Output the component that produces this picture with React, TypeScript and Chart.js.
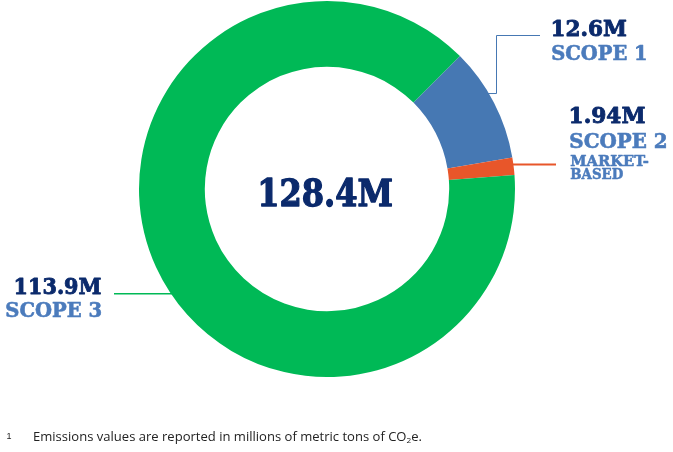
import React, { useEffect, useRef } from 'react';
import { Chart, registerables } from 'chart.js';

Chart.register(...registerables);

// ---- data ----
const categories = ['SCOPE 1', 'SCOPE 2', 'SCOPE 3'];
const values = [12.6, 1.94, 113.9];
const valueLabels = ['12.6M', '1.94M', '113.9M'];
const noteLabels = ['', 'MARKET-|BASED', ''];
const totalLabel = '128.4M';
const footnoteText = 'Emissions values are reported in millions of metric tons of CO';
const footnoteSub = '2';
const footnoteEnd = 'e.';

// ---- styles ----
const segColors = ['#4678B3', '#E8562A', '#00B956'];
const NAVY = '#0B2A6C';
const LBLUE = '#4B7BBC';
const SLAB = '"DejaVu Serif", serif';

const W = 673;
const H = 452;

function fitText(
  ctx: CanvasRenderingContext2D,
  text: string,
  x: number,
  y: number,
  w: number,
  font: string,
  color: string,
  stroke = 0
) {
  ctx.save();
  ctx.font = font;
  ctx.fillStyle = color;
  ctx.strokeStyle = color;
  ctx.lineJoin = 'round';
  ctx.textAlign = 'left';
  ctx.textBaseline = 'alphabetic';
  const m = ctx.measureText(text);
  const ink = m.actualBoundingBoxRight + m.actualBoundingBoxLeft + stroke;
  const s = w / ink;
  ctx.translate(x + (m.actualBoundingBoxLeft + stroke / 2) * s, y - stroke / 2);
  ctx.scale(s, 1);
  ctx.fillText(text, 0, 0);
  if (stroke > 0) {
    ctx.lineWidth = stroke;
    ctx.strokeText(text, 0, 0);
  }
  ctx.restore();
}

const labelPlugin = {
  id: 'labels',
  afterDraw(chart: any) {
    const ctx: CanvasRenderingContext2D = chart.ctx;
    const meta = chart.getDatasetMeta(0);
    const anchor = (i: number, frac: number) => {
      const p = meta.data[i].getProps(['x', 'y', 'startAngle', 'endAngle', 'outerRadius'], true);
      const a = p.startAngle + (p.endAngle - p.startAngle) * frac;
      return { x: p.x + Math.cos(a) * p.outerRadius, y: p.y + Math.sin(a) * p.outerRadius };
    };

    // leader lines
    ctx.save();
    const a0 = anchor(0, 0.41);
    ctx.strokeStyle = segColors[0];
    ctx.lineWidth = 1;
    ctx.beginPath();
    ctx.moveTo(a0.x - 1, a0.y);
    ctx.lineTo(496.5, a0.y);
    ctx.lineTo(496.5, 35.5);
    ctx.lineTo(540, 35.5);
    ctx.stroke();

    const a1 = anchor(1, 0.4);
    ctx.strokeStyle = segColors[1];
    ctx.lineWidth = 2;
    ctx.beginPath();
    ctx.moveTo(a1.x - 1, a1.y);
    ctx.lineTo(556, a1.y);
    ctx.stroke();

    const a2 = anchor(2, 0.471);
    ctx.strokeStyle = segColors[2];
    ctx.lineWidth = 1.4;
    ctx.beginPath();
    ctx.moveTo(a2.x + 1, a2.y);
    ctx.lineTo(114, a2.y);
    ctx.stroke();
    ctx.restore();

    // value labels
    fitText(ctx, valueLabels[0], 552, 36, 75, `bold 23px ${SLAB}`, NAVY, 0.9);
    fitText(ctx, categories[0], 552, 60, 94, `bold 20px ${SLAB}`, LBLUE, 0.6);

    fitText(ctx, valueLabels[1], 570, 123, 75.5, `bold 23px ${SLAB}`, NAVY, 0.9);
    fitText(ctx, categories[1], 570, 148, 97, `bold 20px ${SLAB}`, LBLUE, 0.6);
    const notes = noteLabels[1].split('|');
    fitText(ctx, notes[0], 570, 166.3, 79, `bold 14.5px ${SLAB}`, LBLUE, 0.5);
    fitText(ctx, notes[1], 570, 179.7, 53, `bold 14.5px ${SLAB}`, LBLUE, 0.5);

    fitText(ctx, valueLabels[2], 15, 294.3, 86.5, `bold 23px ${SLAB}`, NAVY, 0.9);
    fitText(ctx, categories[2], 6, 317.3, 95.5, `bold 20px ${SLAB}`, LBLUE, 0.6);

    // total in the centre
    fitText(ctx, totalLabel, 260, 206.7, 132.7, `bold 38px ${SLAB}`, NAVY, 1.3);

    // footnote
    ctx.save();
    ctx.fillStyle = '#222222';
    ctx.textBaseline = 'alphabetic';
    ctx.font = '9px "Liberation Sans", sans-serif';
    ctx.fillText('1', 6.5, 438.5);
    const mainFont = '12.6px "Open Sans", sans-serif';
    const subFont = '8px "Open Sans", sans-serif';
    ctx.font = mainFont;
    const w1 = ctx.measureText(footnoteText).width;
    const w3 = ctx.measureText(footnoteEnd).width;
    ctx.font = subFont;
    const w2 = ctx.measureText(footnoteSub).width;
    const s = 389 / (w1 + w2 + w3);
    ctx.translate(33, 440.7);
    ctx.scale(s, 1);
    ctx.font = mainFont;
    ctx.fillText(footnoteText, 0, 0);
    ctx.font = subFont;
    ctx.fillText(footnoteSub, w1, 2.5);
    ctx.font = mainFont;
    ctx.fillText(footnoteEnd, w1 + w2, 0);
    ctx.restore();
  },
};

export default function App() {
  const ref = useRef<HTMLCanvasElement | null>(null);
  useEffect(() => {
    if (!ref.current) return;
    const chart = new Chart(ref.current, {
      type: 'doughnut',
      data: {
        labels: categories,
        datasets: [
          {
            data: values,
            backgroundColor: segColors,
            borderWidth: 0,
            hoverOffset: 0,
          },
        ],
      },
      options: {
        responsive: false,
        animation: false,
        devicePixelRatio: 1,
        rotation: 45,
        cutout: '65%',
        layout: { padding: { left: 139, right: 158, top: 1, bottom: 75 } },
        plugins: {
          legend: { display: false },
          tooltip: { enabled: false },
        },
        events: [],
      },
      plugins: [labelPlugin],
    });
    return () => chart.destroy();
  }, []);
  return (
    <div style={{ position: 'absolute', left: 0, top: 0, width: W, height: H, background: '#ffffff' }}>
      <canvas ref={ref} width={W} height={H} style={{ display: 'block', width: W, height: H }} />
    </div>
  );
}
